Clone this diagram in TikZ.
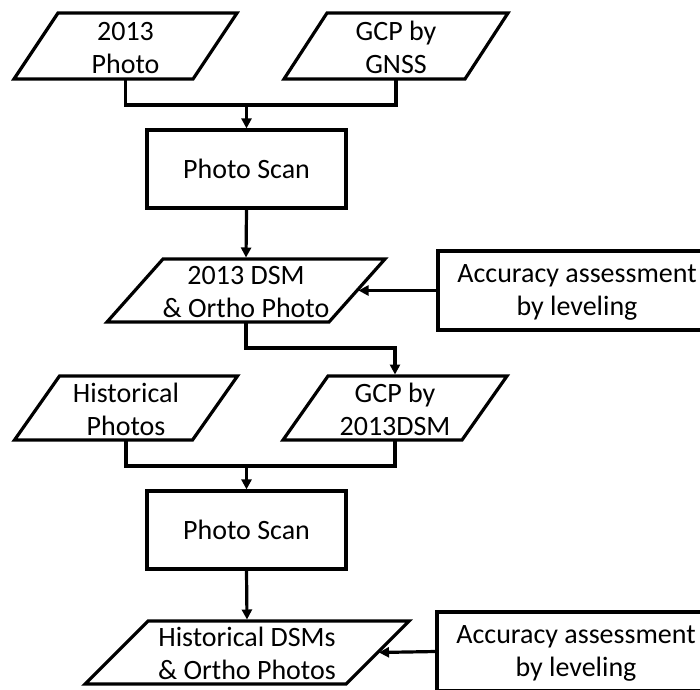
\documentclass[tikz,border=0pt]{standalone}
\usepackage{fontspec}
\setmainfont{Carlito}
\usetikzlibrary{arrows.meta}
\newcommand{\tstrut}{\rule{0pt}{22pt}}
\tikzset{
  ln/.style={line width=3.2pt, line join=miter, black},
  box/.style={ln, draw, rectangle, inner sep=0pt, align=center, font=\fontsize{28}{33}\selectfont},
  io/.style={rectangle, inner sep=0pt, outer sep=0pt, align=center, font=\fontsize{28}{33}\selectfont},
  arr/.style={ln, -{Triangle[length=10pt,width=10pt]}},
  arrio/.style={arr, shorten >=1.5pt},
}
\newcommand{\paradraw}[2]{%
  \draw[ln] ([xshift=-#2]#1.south west) -- ([xshift=-#2]#1.south east)
    -- ([xshift=#2]#1.north east) -- ([xshift=#2]#1.north west) -- cycle;}
\begin{document}
\begin{tikzpicture}[x=1pt,y=-1pt]
\useasboundingbox (0,0) rectangle (700,689);
% top inputs
\node[io, minimum width=179pt, minimum height=66pt] (p1) at (125.5,46) {\tstrut 2013\\Photo};
\paradraw{p1}{22pt}
\node[io, minimum width=181pt, minimum height=66pt] (p2) at (396,46) {\tstrut GCP by\\GNSS};
\paradraw{p2}{21.5pt}
\coordinate (j1) at (246.5,105);
\node[box, minimum width=199pt, minimum height=78pt] (ps1) at (246.5,169) {Photo Scan};
\draw[ln] (p1.south) |- (j1) -| (p2.south);
\draw[arr] (j1) -- (ps1.north);
% 2013 DSM
\node[io, minimum width=222pt, minimum height=63pt] (dsm1) at (246,290.5) {\tstrut 2013 DSM\\\& Ortho Photo};
\paradraw{dsm1}{28pt}
\draw[arrio] (ps1.south) -- (dsm1.north);
\node[box, minimum width=278pt, minimum height=79pt] (acc1) at (577,290.5) {\tstrut Accuracy assessment\\by leveling};
\draw[arrio] (acc1.west) -- (dsm1.east);
% historical inputs
\node[io, minimum width=178pt, minimum height=64pt] (hp) at (126,408) {\tstrut Historical\\Photos};
\paradraw{hp}{22.5pt}
\node[io, minimum width=179pt, minimum height=64pt] (gcp2) at (395,408) {\tstrut GCP by\\2013DSM};
\paradraw{gcp2}{22.5pt}
\coordinate (k1) at (320,348);
\draw[arrio] (dsm1.south) |- (k1) -| (gcp2.north);
\coordinate (j2) at (246.5,466);
\node[box, minimum width=199pt, minimum height=78pt] (ps2) at (246.5,530) {Photo Scan};
\draw[ln] (hp.south) |- (j2) -| (gcp2.south);
\draw[arr] (j2) -- (ps2.north);
% historical DSMs
\node[io, minimum width=261pt, minimum height=63pt] (hdsm) at (247,652.5) {\tstrut Historical DSMs\\\& Ortho Photos};
\paradraw{hdsm}{31.5pt}
\draw[arrio] (ps2.south) -- (hdsm.north);
\node[box, minimum width=278pt, minimum height=79pt] (acc2) at (576,651.5) {\tstrut Accuracy assessment\\by leveling};
\draw[arrio] (acc2.west) -- (hdsm.east);
\end{tikzpicture}
\end{document}
